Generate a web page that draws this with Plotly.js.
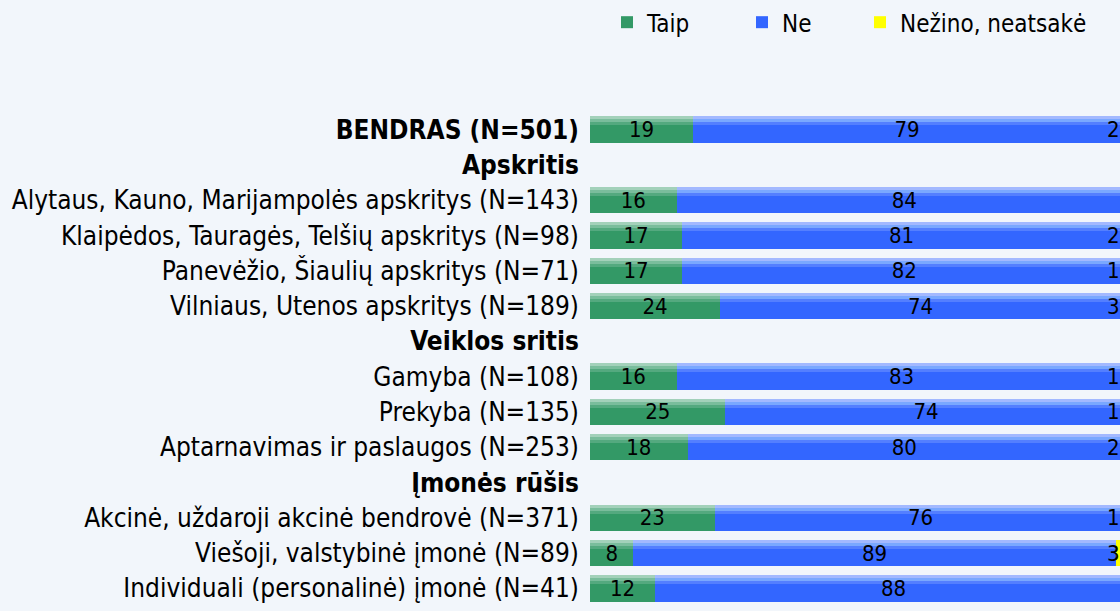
<!DOCTYPE html>
<html>
<head>
<meta charset="utf-8">
<script src="https://cdn.plot.ly/plotly-3.0.1.min.js"></script>
<style>
html,body{margin:0;padding:0;background:#f2f6fb;}
#chart{width:1120px;height:611px;}
</style>
</head>
<body>
<div id="chart"></div>
<script>
const categories = [
  "BENDRAS (N=501)",
  "Apskritis",
  "Alytaus, Kauno, Marijampolės apskritys (N=143)",
  "Klaipėdos, Tauragės, Telšių apskritys (N=98)",
  "Panevėžio, Šiaulių apskritys (N=71)",
  "Vilniaus, Utenos apskritys (N=189)",
  "Veiklos sritis",
  "Gamyba (N=108)",
  "Prekyba (N=135)",
  "Aptarnavimas ir paslaugos (N=253)",
  "Įmonės rūšis",
  "Akcinė, uždaroji akcinė bendrovė (N=371)",
  "Viešoji, valstybinė įmonė (N=89)",
  "Individuali (personalinė) įmonė (N=41)"
];
const boldRows = ["BENDRAS (N=501)", "Apskritis", "Veiklos sritis", "Įmonės rūšis"];
const taip = [19, null, 16, 17, 17, 24, null, 16, 25, 18, null, 23, 8, 12];
const ne   = [79, null, 84, 81, 82, 74, null, 83, 74, 80, null, 76, 89, 88];
const nezino = [2, null, 0, 2, 1, 3, null, 1, 1, 2, null, 1, 3, 0];
const seriesNames = ["Taip", "Ne", "Nežino, neatsakė"];
const colors = ["#339966", "#3366ff", "#ffff00"];
// lighter tints for the top highlight of each bar (Taip, Ne)
const highlightTints = [
  ["rgb(163,209,186)", "rgb(163,185,255)"],
  ["rgb(122,189,156)", "rgb(122,168,255)"],
  ["rgb(84,169,127)",  "rgb(84,127,255)"]
];

const FONT = "'DejaVu Sans Condensed', 'DejaVu Sans', sans-serif";
const tickText = categories.map(c => boldRows.includes(c) ? "<b>" + c + "</b>" : c);
const legendIds = ["legend", "legend2", "legend3"];

const data = [];
// base bars
[taip, ne, nezino].forEach((vals, i) => {
  data.push({
    type: "bar", orientation: "h", name: seriesNames[i],
    y: categories, x: vals, legend: legendIds[i], yaxis: "y",
    marker: {color: colors[i], line: {width: 0}},
    textposition: "none", hoverinfo: "x+name"
  });
});
// top highlight bands (gradient imitation)
const BAR_W = 0.75, BAND_W = 0.085;
highlightTints.forEach((tints, b) => {
  [taip, ne].forEach((vals, i) => {
    data.push({
      type: "bar", orientation: "h", name: seriesNames[i], showlegend: false,
      y: categories, x: vals, yaxis: "y" + (b + 2),
      width: BAND_W, offset: -BAR_W / 2 + b * BAND_W,
      marker: {color: tints[i], line: {width: 0}},
      textposition: "none", hoverinfo: "skip"
    });
  });
});
// value labels (transparent bars on top)
[taip, ne].forEach((vals, i) => {
  data.push({
    type: "bar", orientation: "h", name: seriesNames[i], showlegend: false,
    y: categories, x: vals, yaxis: "y5",
    marker: {color: "rgba(0,0,0,0)", line: {width: 0}},
    text: vals.map(v => v == null ? "" : String(v)),
    textposition: "inside", insidetextanchor: "middle", textangle: 0,
    constraintext: "none",
    textfont: {family: FONT, size: 22, color: "#000000"},
    hoverinfo: "skip"
  });
});

const annotations = [];
categories.forEach((c, k) => {
  if (nezino[k]) {
    annotations.push({
      xref: "paper", yref: "y", x: 1.004, y: c, xanchor: "right", yanchor: "middle",
      text: String(nezino[k]), showarrow: false,
      font: {family: FONT, size: 22, color: "#000000"}
    });
  }
});

function legendAt(x) {
  return {
    orientation: "h", x: x, xanchor: "left", y: 1.181, yanchor: "middle",
    bgcolor: "rgba(0,0,0,0)",
    font: {family: FONT, size: 24, color: "#000000"}
  };
}
const YRANGE = [categories.length - 0.5, -0.5];
function hiddenY() {
  return {
    type: "category", overlaying: "y", range: YRANGE,
    categoryorder: "array", categoryarray: categories,
    visible: false, showgrid: false, zeroline: false
  };
}

const layout = {
  width: 1120, height: 611,
  paper_bgcolor: "#f2f6fb", plot_bgcolor: "rgba(0,0,0,0)",
  margin: {l: 590, r: 0, t: 108, b: 5, pad: 0},
  barmode: "stack", bargap: 0.25,
  font: {family: FONT, size: 26, color: "#000000"},
  xaxis: {range: [0, 97.8], showgrid: false, zeroline: false, showticklabels: false, ticks: "", fixedrange: true},
  yaxis: {
    type: "category", range: YRANGE,
    categoryorder: "array", categoryarray: categories,
    tickvals: categories, ticktext: tickText,
    ticks: "", showgrid: false, zeroline: false, ticklabelstandoff: 10,
    tickfont: {family: FONT, size: 26, color: "#000000"}
  },
  yaxis2: hiddenY(), yaxis3: hiddenY(), yaxis4: hiddenY(), yaxis5: hiddenY(),
  legend: legendAt(0.0321),
  legend2: legendAt(0.2868),
  legend3: legendAt(0.5094),
  annotations: annotations,
  showlegend: true
};
Plotly.newPlot("chart", data, layout, {displayModeBar: false, staticPlot: true});
</script>
</body>
</html>
